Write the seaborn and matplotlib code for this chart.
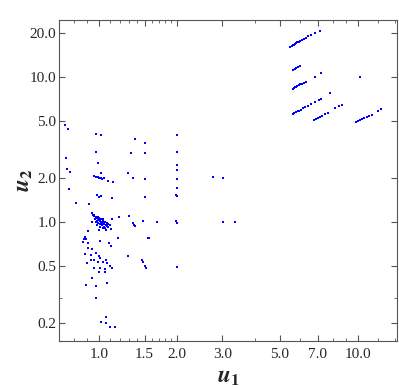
import matplotlib
matplotlib.use("Agg")
import matplotlib.pyplot as plt
import numpy as np
import pandas as pd
import seaborn as sns

# Scatter values (u1, u2), grouped by region
# upper-right streaks
streak_u1 = [5.50, 5.55, 5.60, 5.66, 5.72, 5.78, 5.85, 5.92, 6.00, 6.08, 6.18, 6.30, 6.45, 6.60, 6.82, 7.13,
             5.63, 5.72, 5.80, 5.90, 6.00, 6.82, 7.19, 10.2,
             5.60, 5.66, 5.72, 5.78, 5.85, 5.92, 6.00, 6.08, 6.18, 6.34, 7.80,
             5.63, 5.70, 5.78, 5.86, 5.95, 6.05, 6.15, 6.28, 6.42, 6.60, 6.82, 7.09, 7.20,
             6.78, 6.90, 7.02, 7.15, 7.30, 7.48, 7.67, 8.20, 8.46, 8.70,
             9.83, 10.0, 10.2, 10.4, 10.6, 10.85, 11.1, 11.4, 12.0, 12.3]
streak_u2 = [16.2, 16.4, 16.5, 16.7, 16.9, 17.1, 17.3, 17.5, 17.7, 18.0, 18.3, 18.6, 19.1, 19.5, 20.2, 20.9,
             11.2, 11.4, 11.55, 11.7, 11.9, 10.05, 10.6, 10.05,
             8.27, 8.37, 8.46, 8.55, 8.65, 8.76, 8.88, 8.99, 9.13, 9.28, 7.72,
             5.56, 5.62, 5.70, 5.78, 5.86, 5.96, 6.06, 6.19, 6.32, 6.50, 6.69, 6.94, 7.05,
             5.05, 5.13, 5.22, 5.31, 5.42, 5.55, 5.67, 6.08, 6.30, 6.40,
             4.87, 4.93, 5.02, 5.10, 5.20, 5.30, 5.39, 5.47, 5.86, 6.00]

# scattered points in the left half
spread_u1 = [0.739, 0.757, 0.971, 1.015, 1.377, 1.50, 0.748, 0.974, 1.33, 1.51, 0.994, 0.752, 0.770,
             1.015, 1.29, 1.086, 1.13, 1.35, 1.51, 0.764, 0.813, 0.915, 0.985, 1.0, 1.015, 1.125, 1.51,
             1.195, 1.30, 1.35, 1.38, 1.48, 1.67, 1.12, 1.19, 1.99, 2.01,
             0.904, 1.11, 0.883, 0.875, 0.89, 0.865, 0.909, 1.01, 1.09, 1.18, 1.11, 1.55, 0.904, 0.942,
             0.974, 0.883, 0.931, 1.0, 1.01, 0.929, 0.959, 1.06, 0.896, 0.994, 1.04, 1.07, 1.10, 1.12,
             1.29, 1.47, 1.48, 1.50, 1.52, 2.0, 0.959, 1.01, 1.05, 1.0, 1.05, 0.942, 1.07, 0.889, 0.974,
             0.974, 1.06, 1.06, 1.015, 1.10, 1.15,
             1.996, 1.996, 2.0, 2.0, 2.0, 1.50, 2.0, 2.76, 3.02, 2.0, 1.98, 2.0, 1.36, 3.01, 3.36, 1.56]
spread_u2 = [4.67, 4.38, 4.05, 4.0, 3.73, 3.49, 2.78, 3.04, 3.0, 3.0, 2.54, 2.33, 2.22,
             2.17, 2.17, 1.92, 1.90, 2.0, 1.98, 1.70, 1.35, 1.34, 1.54, 1.48, 1.51, 1.46, 1.49,
             1.08, 1.10, 0.98, 0.94, 1.02, 1.0, 1.05, 1.09, 1.02, 0.99,
             0.867, 0.90, 0.79, 0.76, 0.76, 0.73, 0.72, 0.74, 0.72, 0.77, 0.68, 0.77, 0.66, 0.65,
             0.61, 0.60, 0.59, 0.58, 0.56, 0.55, 0.55, 0.55, 0.52, 0.53, 0.53, 0.52, 0.50, 0.48,
             0.58, 0.55, 0.53, 0.50, 0.48, 0.49, 0.48, 0.48, 0.47, 0.45, 0.45, 0.41, 0.38, 0.37, 0.36,
             0.30, 0.22, 0.20, 0.205, 0.19, 0.19,
             4.0, 3.04, 2.47, 2.46, 2.28, 2.99, 1.99, 2.05, 2.01, 1.72, 1.53, 1.50, 0.96, 1.0, 1.0, 0.78]

# dense clumps around (1, 1) and (1, 2)
clump_u1 = [0.942, 0.950, 0.959, 0.971, 0.980, 0.989, 1.0, 1.009, 1.018, 1.03, 1.039, 1.048, 1.061, 1.071,
            1.08, 1.039, 1.055, 1.009, 0.994, 1.024, 0.985, 1.003, 0.965, 0.974, 1.015, 1.033, 1.055, 1.071,
            1.086, 1.10, 0.937, 1.045, 1.027, 0.991, 0.956, 1.036, 1.045, 0.982, 1.009, 1.064, 1.0,
            0.956, 0.974, 0.985, 1.0, 1.015, 1.03, 1.045, 0.994]
clump_u2 = [1.15, 1.12, 1.10, 1.08, 1.06, 1.04, 1.03, 1.02, 1.005, 0.99, 0.98, 0.97, 0.953, 0.938,
            0.92, 0.905, 0.905, 0.97, 0.98, 0.953, 1.02, 1.06, 1.04, 1.005, 1.04, 1.02, 1.005, 0.99,
            0.97, 0.953, 1.005, 0.93, 1.0, 1.09, 1.12, 1.05, 0.985, 0.958, 0.93, 0.885, 0.88,
            2.08, 2.05, 2.03, 2.0, 2.0, 1.98, 2.0, 2.05]

x_ticks = [1.0, 1.5, 2.0, 3.0, 5.0, 7.0, 10.0]
x_minor = [0.8, 0.9, 1.1, 1.2, 1.3, 1.4, 1.6, 1.7, 1.8, 1.9, 4.0, 6.0, 8.0, 9.0, 12.0, 14.0]
y_ticks = [0.2, 0.5, 1.0, 2.0, 5.0, 10.0, 20.0]
y_minor = [0.3]

df = pd.DataFrame({"u1": streak_u1 + spread_u1 + clump_u1,
                   "u2": streak_u2 + spread_u2 + clump_u2})

sns.set_style("ticks")
plt.rcParams["font.family"] = ["Liberation Serif", "DejaVu Serif"]
plt.rcParams["mathtext.fontset"] = "stix"

fig = plt.figure(figsize=(3.99, 3.88), dpi=100)
ax = fig.add_axes([59 / 399, 1 - 341 / 388, 338 / 399, 321 / 388])
sns.scatterplot(data=df, x="u1", y="u2", ax=ax, color="blue", marker="s", s=2.5, linewidth=0)

ax.set_xscale("log")
ax.set_yscale("log")
ax.set_xlim(0.70, 14.2)
ax.set_ylim(0.151, 24.7)

ax.set_xticks(x_ticks, [f"{v:.1f}" for v in x_ticks])
ax.set_xticks(x_minor, minor=True)
ax.set_xticklabels([], minor=True)
ax.set_yticks(y_ticks, [f"{v:.1f}" for v in y_ticks])
ax.set_yticks(y_minor, minor=True)
ax.set_yticklabels([], minor=True)

ax.tick_params(which="both", direction="in", top=True, right=True, color="#555555",
               labelsize=11)
ax.tick_params(axis="x", which="both", pad=5)
ax.tick_params(axis="y", which="both", pad=2)
ax.tick_params(which="major", length=4, width=0.8)
ax.tick_params(which="minor", length=2, width=0.6)
for sp in ax.spines.values():
    sp.set_color("#555555")
    sp.set_linewidth(0.8)

ax.set_xlabel(r"$\mathbfit{u}_{\mathbf{1}}$", fontsize=17, labelpad=4)
ax.set_ylabel(r"$\mathbfit{u}_{\mathbf{2}}$", fontsize=17)
ax.yaxis.set_label_coords(-0.07, 0.5)

fig.savefig("out.png", dpi=100)
